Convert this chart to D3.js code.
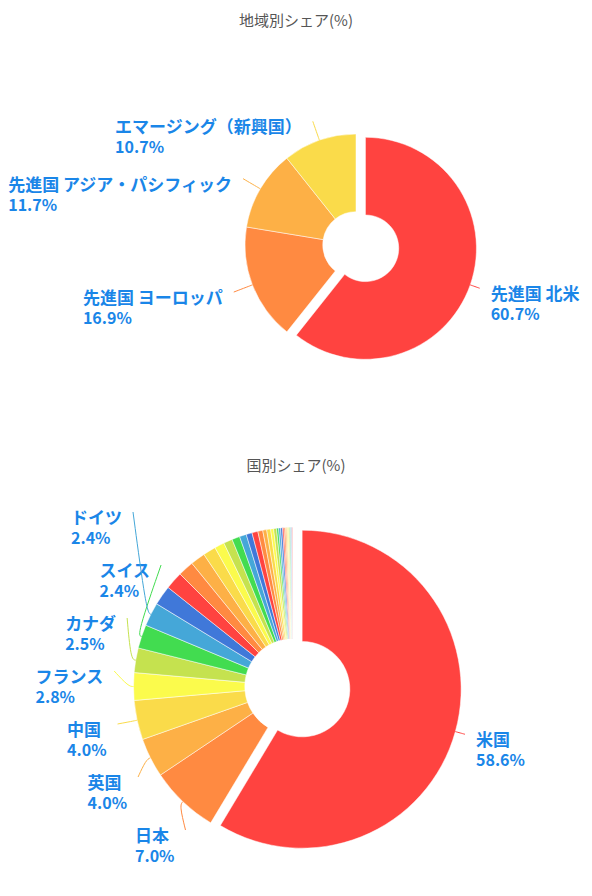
<!DOCTYPE html>
<html>
<head>
<meta charset="utf-8">
<script src="https://cdn.jsdelivr.net/npm/d3@7"></script>
<style>
  body { margin: 0; background: #fff; }
  svg text { font-family: 'Noto Sans CJK JP', 'Noto Sans', sans-serif; }
</style>
</head>
<body>
<div id="chart"></div>
<script>
// region shares (%)
var regionNames = ['先進国 北米', '先進国 ヨーロッパ', '先進国 アジア・パシフィック', 'エマージング（新興国）'];
var regionShares = [60.7, 16.9, 11.7, 10.7];

// country shares (%), only the big ones get a label
var countryNames = ['米国', '日本', '英国', '中国', 'フランス', 'カナダ', 'スイス', 'ドイツ',
  'オーストラリア', '台湾', '韓国', 'インド', 'オランダ', 'スウェーデン', '香港', 'デンマーク',
  'スペイン', 'イタリア', 'ブラジル', 'シンガポール', 'フィンランド', '南アフリカ', 'ベルギー',
  'サウジアラビア', 'メキシコ', 'ノルウェー', 'イスラエル', 'タイ', 'インドネシア', 'アイルランド',
  'マレーシア', 'ニュージーランド', 'アラブ首長国連邦', 'カタール', 'ポーランド', 'フィリピン', 'チリ'];
var countryShares = [58.6, 7.0, 4.0, 4.0, 2.8, 2.5, 2.4, 2.4,
  2.0, 1.8, 1.6, 1.5, 1.3, 1.0, 0.9, 0.8,
  0.7, 0.6, 0.6, 0.5, 0.4, 0.4, 0.3,
  0.3, 0.2, 0.2, 0.2, 0.15, 0.15, 0.12,
  0.1, 0.1, 0.1, 0.08, 0.08, 0.06, 0.06];

var palette = ['#ff4340', '#ff8a41', '#fdb046', '#fadb4a', '#fbfb4c', '#c5e24f', '#42dc50', '#45a7d8', '#4078d9'];

var svgWidth = 592;
var svgHeight = 896;

var svg = d3.select('#chart')
  .append('svg')
  .attr('width', svgWidth)
  .attr('height', svgHeight);

var labelColor = '#1a86e8';

// one donut per panel
function drawDonut(panel) {
  var g = svg.append('g');

  g.append('text')
    .attr('x', svgWidth / 2)
    .attr('y', panel.top + 26)
    .attr('text-anchor', 'middle')
    .attr('font-size', '15px')
    .attr('fill', '#555')
    .text(panel.title);

  var color = d3.scaleOrdinal().domain(panel.names).range(palette);

  var pie = d3.pie().sort(null).value(d => d.value);
  var data = panel.names.map((n, i) => ({ name: n, value: panel.values[i] }));
  var arcs = pie(data);

  var r = panel.r;
  var arc = d3.arc().innerRadius(r * 0.3).outerRadius(r);
  var pull = 10;

  // slices, first one pulled out
  g.selectAll('path.slice')
    .data(arcs)
    .enter()
    .append('path')
    .attr('class', 'slice')
    .attr('d', arc)
    .attr('fill', d => color(d.data.name))
    .attr('stroke', '#fff')
    .attr('stroke-width', 0.5)
    .attr('transform', function(d, i) {
      var off = i === 0 ? pull : 0;
      var m = (d.startAngle + d.endAngle) / 2;
      return `translate(${panel.cx + off * Math.sin(m)}, ${panel.cy - off * Math.cos(m)})`;
    });

  // labels: stack them per side, then pull them back onto a circle
  var rA = r + 20;
  var gap = 53;
  var items = arcs.filter(d => d.data.value >= panel.labelMin).map(function(d) {
    var i = arcs.indexOf(d);
    var m = (d.startAngle + d.endAngle) / 2;
    return {
      d: d, m: m, off: i === 0 ? pull : 0,
      side: Math.sin(m) < 0 ? -1 : 1,
      natY: panel.cy - rA * Math.cos(m),
      natDx: rA * Math.abs(Math.sin(m))
    };
  });

  [-1, 1].forEach(function(side) {
    var list = items.filter(it => it.side === side).sort((a, b) => a.natY - b.natY);
    list.forEach(function(it, i) {
      it.y = it.natY;
      if (i > 0) it.y = Math.max(it.y, list[i - 1].y + gap);
    });
    for (var i = list.length - 1; i >= 0; i--) {
      if (i === list.length - 1) list[i].y = Math.min(list[i].y, panel.maxLabelY);
      else list[i].y = Math.min(list[i].y, list[i + 1].y - gap);
    }
    list.forEach(function(it) {
      var dy = it.y - panel.cy;
      var dx = Math.sqrt(Math.max(rA * rA - dy * dy, 0));
      if (Math.abs(it.y - it.natY) < 0.5 || dx < r * 0.6) dx = it.natDx;
      it.x = panel.cx + side * dx;
    });
  });

  var line = d3.line().curve(d3.curveBasis);

  items.forEach(function(it) {
    var s = Math.sin(it.m), c = Math.cos(it.m);
    var ox = panel.cx + it.off * s, oy = panel.cy - it.off * c;
    var p1 = [ox + r * s, oy - r * c];
    var p2 = [ox + (r + 5) * s, oy - (r + 5) * c];
    var p3 = [it.x, it.y];
    g.append('path')
      .attr('d', line([p1, p2, p3]))
      .attr('fill', 'none')
      .attr('stroke', color(it.d.data.name))
      .attr('stroke-width', 1);

    var label = g.append('text')
      .attr('font-weight', 'bold')
      .attr('fill', labelColor);
    var t1 = label.append('tspan')
      .attr('y', it.y + 12)
      .attr('font-size', '17px')
      .text(it.d.data.name);
    var t2 = label.append('tspan')
      .attr('y', it.y + 32)
      .attr('font-size', '16px')
      .text(it.d.data.value.toFixed(1) + '%');
    var w = Math.max(t1.node().getComputedTextLength(), t2.node().getComputedTextLength());
    var tx = it.side < 0 ? it.x - 11 - w : it.x + 11;
    t1.attr('x', tx);
    t2.attr('x', tx);
  });
}

drawDonut({
  title: '地域別シェア(%)',
  names: regionNames,
  values: regionShares,
  top: 0, cx: 356, cy: 245, r: 111,
  labelMin: 0, maxLabelY: 382
});

drawDonut({
  title: '国別シェア(%)',
  names: countryNames,
  values: countryShares,
  top: 445, cx: 292.5, cy: 686.5, r: 159,
  labelMin: 2.4, maxLabelY: 830
});
</script>
</body>
</html>
